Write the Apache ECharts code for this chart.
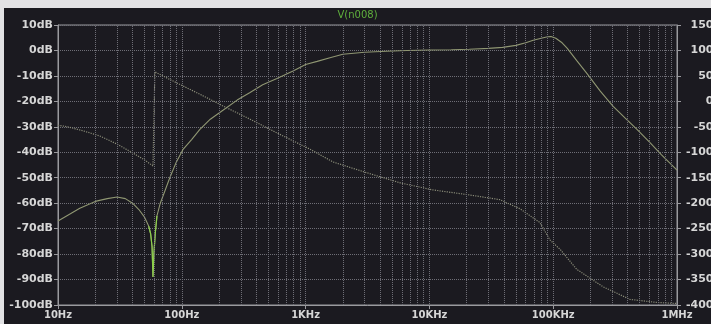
<!DOCTYPE html>
<html>
<head>
<meta charset="utf-8">
<script src="https://cdn.jsdelivr.net/npm/echarts@6/dist/echarts.min.js"></script>
<style>
  html, body { margin: 0; padding: 0; background: #e2e2e4; }
  #chart { position: absolute; left: 4px; top: 8px; width: 707px; height: 316px; }
</style>
</head>
<body>
<div id="chart"></div>
<script>
// frequency response
var magFreq = [10, 15, 20, 25, 30, 35, 40, 45, 50, 54, 56, 57.5, 58.5, 59.5, 61, 63, 67, 72, 80, 90,
  102, 120, 140, 170, 215, 280, 356, 450, 587, 800, 1000, 1240, 1600, 2000, 3000, 4500, 6600,
  10000, 15000, 21000, 30000, 39000, 50000, 60000, 69000, 80000, 90000, 96000, 105000, 118000,
  130000, 155000, 187000, 240000, 305000, 380000, 475000, 600000, 750000, 1000000]
var magDb = [-67, -62, -59.3, -58.2, -57.6, -58.2, -60, -62.5, -65.5, -69, -72, -77, -89, -80, -72, -65, -60, -56, -50, -44,
  -39, -35, -31, -27, -23.5, -19.5, -16.5, -13.5, -11, -8, -5.5, -4.3, -2.8, -1.5, -0.7, -0.3, 0,
  0.2, 0.3, 0.5, 0.8, 1.2, 2, 3, 4, 4.8, 5.4, 5.5, 4.8, 3,
  0.8, -4, -9, -16, -22, -26.5, -31, -36, -41, -47]

var phFreq = [10, 12, 16, 21.8, 30, 40, 50, 58.5, 60.6, 80, 140, 215, 356, 587, 1086, 1665, 3100, 5800,
  10700, 20000, 37000, 54000, 78000, 94000, 114000, 155000, 252000, 417000, 690000, 1000000]
var phDeg = [-47, -50, -58, -68, -84, -101, -115, -127, 58, 43, 14, -9, -35, -62, -94, -119, -140, -160,
  -174, -183, -193, -211, -238, -272, -291, -330, -364, -389, -395, -397]

var xLabels = ['10Hz', '100Hz', '1KHz', '10KHz', '100KHz', '1MHz']
var decades = [10, 100, 1000, 10000, 100000]
var traceName = 'V(n008)'

var textColor = '#d6d6d6'
var gridColor = '#6e6e76'
var frameColor = '#9a9a9e'
var font = 'DejaVu Sans'

function pairs(xs, ys) {
  return xs.map(function (x, i) { return [x, ys[i]] })
}

// dotted minor grid at 2..9 of each decade
var minorLines = []
decades.forEach(function (d) {
  for (var k = 2; k <= 9; k++) minorLines.push({ xAxis: d * k })
})

// notch part drawn brighter
var n0 = magFreq.indexOf(54), n1 = magFreq.indexOf(63) + 1

var chart = echarts.init(document.getElementById('chart'))
chart.setOption({
  backgroundColor: '#1b1a20',
  animation: false,
  title: {
    text: traceName,
    left: 'center',
    top: -3,
    textStyle: { color: '#5fb03c', fontSize: 10, fontFamily: font, fontWeight: 'normal' }
  },
  grid: {
    left: 54, right: 34, top: 17, bottom: 19,
    outerBoundsMode: 'none',
    containLabel: false,
    show: true, borderColor: frameColor, borderWidth: 1
  },
  xAxis: {
    type: 'log',
    logBase: 10,
    min: 10,
    max: 1000000,
    axisLine: { onZero: false, lineStyle: { color: frameColor } },
    axisTick: { show: true, length: 4, lineStyle: { color: frameColor } },
    axisLabel: {
      color: textColor, fontSize: 10, fontFamily: font, fontWeight: 'bold', margin: 5,
      formatter: function (v) { return xLabels[Math.round(Math.log10(v)) - 1] }
    },
    splitLine: { show: true, lineStyle: { color: gridColor, type: 'dotted' } }
  },
  yAxis: [
    {
      type: 'value',
      min: -100, max: 10, interval: 10,
      axisLine: { show: true, lineStyle: { color: frameColor } },
      axisTick: { show: true, length: 4, lineStyle: { color: frameColor } },
      axisLabel: {
        color: textColor, fontSize: 11, fontFamily: font, fontWeight: 'bold', margin: 5,
        formatter: function (v) { return v + 'dB' }
      },
      splitLine: { show: true, lineStyle: { color: gridColor, type: 'dotted' } }
    },
    {
      type: 'value',
      position: 'right',
      min: -400, max: 150, interval: 50,
      axisLine: { show: true, lineStyle: { color: frameColor } },
      axisTick: { show: true, length: 4, lineStyle: { color: frameColor } },
      axisLabel: {
        color: textColor, fontSize: 11, fontFamily: font, fontWeight: 'bold',
        align: 'right', margin: 42,
        formatter: function (v) { return v + '°' }
      },
      splitLine: { show: false }
    }
  ],
  series: [
    {
      name: 'mag',
      type: 'line',
      yAxisIndex: 0,
      data: pairs(magFreq, magDb),
      showSymbol: false,
      lineStyle: { color: '#8f9672', width: 1.1 },
      markLine: {
        silent: true,
        symbol: 'none',
        label: { show: false },
        lineStyle: { color: gridColor, type: 'dotted', width: 1 },
        data: minorLines
      },
      z: 3
    },
    {
      name: 'notch',
      type: 'line',
      yAxisIndex: 0,
      data: pairs(magFreq.slice(n0, n1), magDb.slice(n0, n1)),
      showSymbol: false,
      lineStyle: { color: '#8ccf4a', width: 1.2 },
      z: 4
    },
    {
      name: 'phase',
      type: 'line',
      yAxisIndex: 1,
      data: pairs(phFreq, phDeg),
      showSymbol: false,
      lineStyle: { color: '#8a8c78', width: 1.2, type: 'dotted' },
      z: 3
    }
  ]
})
</script>
</body>
</html>
